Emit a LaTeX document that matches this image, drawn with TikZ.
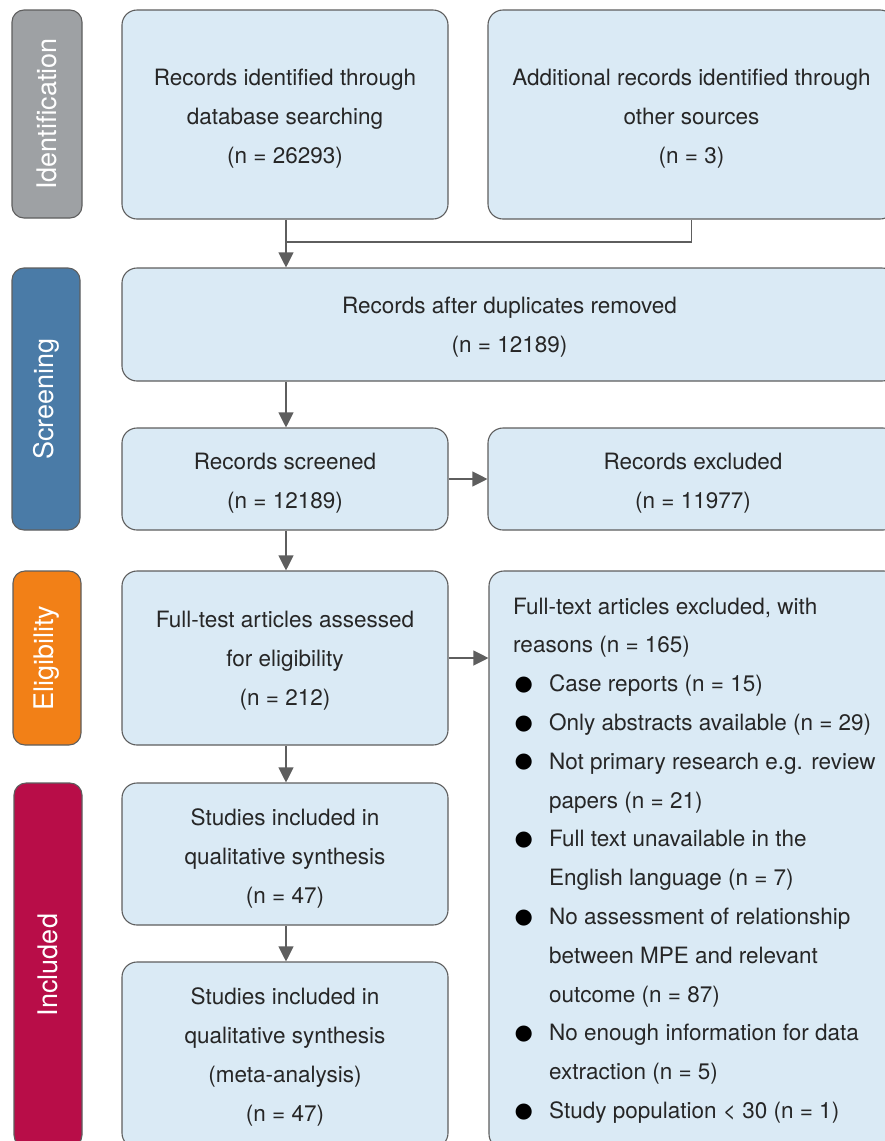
\documentclass[tikz,border=0pt]{standalone}
\usepackage{fontspec}
\setmainfont{TeX Gyre Heros}
\newfontfamily\dejavu{DejaVu Sans}
\usetikzlibrary{arrows.meta}
\definecolor{boxblue}{HTML}{DAEAF5}
\definecolor{linegray}{HTML}{5E5E5E}
\definecolor{textgray}{HTML}{262626}
\definecolor{phgray}{HTML}{9EA1A4}
\definecolor{phblue}{HTML}{4A7BA7}
\definecolor{phorange}{HTML}{F28017}
\definecolor{phred}{HTML}{B80D48}
\newcommand\bul{\makebox[36pt][l]{\hspace{1.5pt}\raisebox{1.5pt}{\color{black}\dejavu\fontsize{21}{21}\selectfont ●}}}
\newcommand\ind{\hspace*{36pt}}
\newcommand\tp{\rule{0pt}{25pt}}
\newcommand\tq{\rule{0pt}{21pt}}
\tikzset{
  box/.style={draw=linegray, fill=boxblue, rounded corners=15pt, line width=1.1pt,
    inner sep=0pt, text=textgray, align=center, font=\fontsize{22.5}{39}\selectfont},
  phase/.style={draw=linegray, rounded corners=12pt, line width=1.1pt, inner sep=0pt,
    text=white, font=\fontsize{27}{30}\selectfont, rotate=90},
  arr/.style={draw=linegray, line width=1.1pt, -{Triangle[width=15pt,length=15pt]}},
  conn/.style={draw=linegray, line width=1.1pt},
}
\begin{document}
\begin{tikzpicture}[x=1pt,y=-1pt]
\useasboundingbox (0,0) rectangle (885,1141);
% phase labels
\node[phase, fill=phgray, minimum width=208pt, minimum height=70pt] (p1) at (47,114) {Identification};
\node[phase, fill=phblue, minimum width=262pt, minimum height=68pt] (p2) at (46,399) {Screening};
\node[phase, fill=phorange, minimum width=174pt, minimum height=68pt] (p3) at (47,658) {Eligibility};
\node[phase, fill=phred, minimum width=364pt, minimum height=68pt] (p4) at (48,965) {Included};
% boxes
\node[box, minimum width=326pt, minimum height=209pt] (A) at (285,114.5) {\tp Records identified through\\database searching\\(n = 26293)};
\node[box, minimum width=407pt, minimum height=209pt] (B) at (691.5,114.5) {\tp Additional records identified through\\other sources\\(n = 3)};
\node[box, minimum width=775pt, minimum height=113pt] (C) at (509.5,324.5) {\tq Records after duplicates removed\\(n = 12189)};
\node[box, minimum width=326pt, minimum height=102pt] (D) at (285,479) {\tp Records screened\\(n = 12189)};
\node[box, minimum width=410pt, minimum height=102pt] (E) at (693,479) {\tp Records excluded\\(n = 11977)};
\node[box, minimum width=326pt, minimum height=174pt] (F) at (285,658) {\tq Full-test articles assessed\\for eligibility\\(n = 212)};
\node[box, minimum width=326pt, minimum height=142pt] (H) at (285,854) {\tp Studies included in\\qualitative synthesis\\(n = 47)};
\node[box, minimum width=326pt, minimum height=186pt] (I) at (285,1055) {\tq Studies included in\\qualitative synthesis\\(meta-analysis)\\(n = 47)};
\node[draw=linegray, fill=boxblue, rounded corners=15pt, line width=1.1pt, inner sep=0pt,
  minimum width=410pt, minimum height=578pt] (G) at (694,860) {};
\node[anchor=north west, inner sep=0pt, text=textgray, align=left,
  font=\fontsize{22.5}{38.8}\selectfont] (Gt) at (513,597.5) {%
Full-text articles excluded, with\\
reasons (n = 165)\\
\bul Case reports (n = 15)\\
\bul Only abstracts available (n = 29)\\
\bul Not primary research e.g. review\\
\ind papers (n = 21)\\
\bul Full text unavailable in the\\
\ind English language (n = 7)\\
\bul No assessment of relationship\\
\ind between MPE and relevant\\
\ind outcome (n = 87)\\
\bul No enough information for data\\
\ind extraction (n = 5)\\
\bul Study population < 30 (n = 1)};
% connectors
\coordinate (j) at (286,242);
\draw[conn] (A.south -| j) -- (j) -- (j -| B.south) -- (B.south);
\draw[arr] (j) -- (j |- C.north);
\draw[arr] (C.south -| j) -- (D.north -| j);
\draw[arr] (D.east) -- (E.west);
\draw[arr] (D.south -| j) -- (F.north -| j);
\draw[arr] (F.east) -- (F.east -| G.west);
\draw[arr] (F.south -| j) -- (H.north -| j);
\draw[arr] (H.south -| j) -- (I.north -| j);
\end{tikzpicture}
\end{document}
